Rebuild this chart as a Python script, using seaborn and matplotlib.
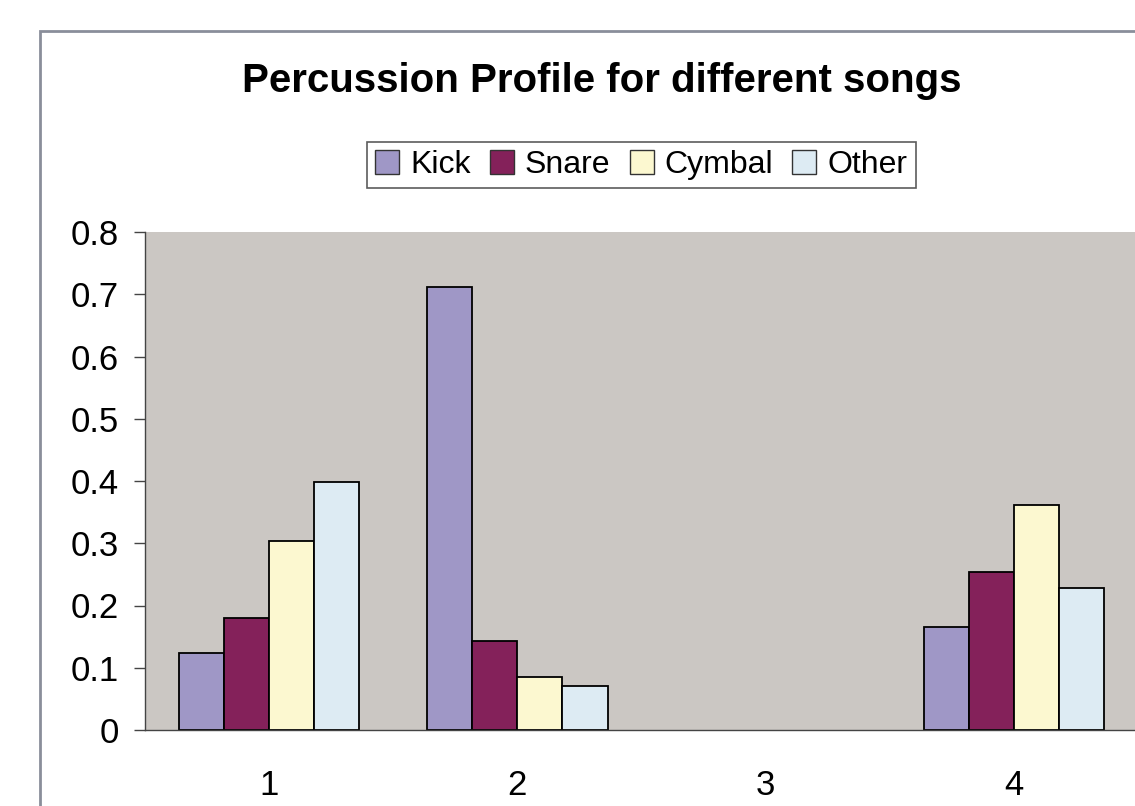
import pandas as pd
import matplotlib
matplotlib.use("Agg")
import matplotlib.pyplot as plt
import seaborn as sns
from matplotlib.patches import Patch, Rectangle

# Data
songs = ["1", "2", "3", "4"]
kick = [0.124, 0.712, 0.0, 0.166]
snare = [0.180, 0.143, 0.0, 0.254]
cymbal = [0.303, 0.085, 0.0, 0.362]
other = [0.398, 0.070, 0.0, 0.228]
instruments = ["Kick", "Snare", "Cymbal", "Other"]
colors = ["#9F97C6", "#84215A", "#FCF8D0", "#DDEBF3"]

df = pd.DataFrame({"Kick": kick, "Snare": snare, "Cymbal": cymbal, "Other": other}, index=songs)
long = df.reset_index(names="song").melt(id_vars="song", var_name="instrument", value_name="share")

sns.set_style("white")
plt.rcParams["font.family"] = ["Liberation Sans", "DejaVu Sans"]
plt.rcParams["text.color"] = "black"
plt.rcParams["xtick.color"] = "black"
plt.rcParams["ytick.color"] = "black"

fig = plt.figure(figsize=(11.35, 8.06), dpi=100)
ax = fig.add_axes([145 / 1135, 76 / 806, 993 / 1135, 498 / 806])
ax.set_facecolor("#CBC7C3")

sns.barplot(data=long, x="song", y="share", hue="instrument", hue_order=instruments,
            palette=colors, order=songs, width=0.727, edgecolor="black", linewidth=1.3,
            saturation=1, ax=ax, legend=False)

# empty bars (song 3) should not leave an outline
for p in ax.patches:
    if p.get_height() == 0:
        p.set_linewidth(0)

ax.set_xlim(-0.5, 3.5)
ax.set_ylim(0, 0.8)
ax.set_yticks([i / 10 for i in range(9)])
ax.set_yticklabels(["0"] + [f"{i / 10:.1f}" for i in range(1, 9)], fontsize=25)
ax.set_xticks(range(4))
ax.set_xticklabels(songs, fontsize=25)
ax.set_xticks([-0.5, 0.5, 1.5, 2.5], minor=True)
ax.tick_params(axis="x", which="major", length=0, pad=28)
ax.tick_params(axis="x", which="minor", length=8, width=1, color="#444444", direction="out")
ax.tick_params(axis="y", length=8, width=1, color="#444444", direction="out", pad=11, left=True,
               labelcolor="black")
ax.tick_params(axis="x", labelcolor="black")
ax.set_xlabel("")
ax.set_ylabel("")
for s in ["top", "right"]:
    ax.spines[s].set_visible(False)
for s in ["left", "bottom"]:
    ax.spines[s].set_color("#444444")
    ax.spines[s].set_linewidth(1)

# chart area border
fig.patches.append(Rectangle((40 / 1135, -0.1), 1.2, 1 - 31 / 806 + 0.1, transform=fig.transFigure,
                             fill=False, edgecolor="#8A8E9A", linewidth=2))

fig.text(0.53, 0.90, "Percussion Profile for different songs", ha="center", va="center",
         fontsize=29, fontweight="bold", color="black")

handles = [Patch(facecolor=c, edgecolor="#333333", label=n) for c, n in zip(colors, instruments)]
leg = fig.legend(handles=handles, loc="center", bbox_to_anchor=(0.565, 0.795), ncol=4,
                 fontsize=23, frameon=True, fancybox=False, edgecolor="#333333",
                 handlelength=0.75, handleheight=0.75, handletextpad=0.35, columnspacing=0.6,
                 borderpad=0.25, borderaxespad=0)
leg.get_frame().set_linewidth(1.2)

fig.savefig("out.png", dpi=100)
